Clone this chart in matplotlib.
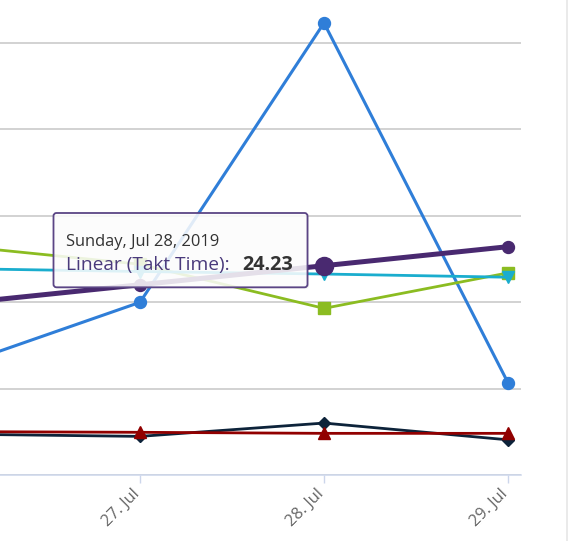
import matplotlib
matplotlib.use("Agg")
import matplotlib.pyplot as plt
from matplotlib.patches import FancyBboxPatch
from matplotlib.transforms import IdentityTransform, ScaledTranslation
from matplotlib.lines import Line2D

plt.rcParams['font.family'] = ['Open Sans', 'DejaVu Sans']

# ---- data ----
days = ['26. Jul', '27. Jul', '28. Jul', '29. Jul']
x_idx = [0, 1, 2, 3]
series_blue = [12.6, 20.0, 52.3, 10.7]
series_navy = [4.76, 4.5, 6.04, 4.1]
series_green = [26.55, 24.4, 19.3, 23.4]
series_red = [5.05, 4.97, 4.85, 4.85]
series_cyan = [23.9, 23.56, 23.27, 22.9]
linear_takt = [19.83, 22.03, 24.23, 26.43]
grid_values = [0, 10, 20, 30, 40, 50]

tooltip_date = 'Sunday, Jul 28, 2019'
tooltip_series = 'Linear (Takt Time)'
tooltip_index = 2

W, H = 568, 541
fig = plt.figure(figsize=(W / 100, H / 100), dpi=100)
fig.patch.set_facecolor('white')

y0 = 475.3  # pixel (from top) of axis line
ax = fig.add_axes([0, (H - y0) / H, 521 / W, y0 / H])
ax.set_facecolor('white')

for s in ['left', 'right', 'top']:
    ax.spines[s].set_visible(False)
ax.spines['bottom'].set_color('#ccd6eb')
ax.spines['bottom'].set_linewidth(1.1)
ax.spines['bottom'].set_zorder(1)

ax.set_yticks(grid_values)
ax.yaxis.grid(True, color='#d2d2d2', linewidth=1.4)
ax.set_axisbelow(True)
ax.tick_params(axis='y', length=0, labelleft=False)

ax.set_xticks(x_idx)
ax.set_xticklabels(days)
ax.tick_params(axis='x', length=5.5, width=1, color='#ccd6eb', colors='#666666',
               labelsize=11.8, pad=4)
shift = ScaledTranslation(-0.085, 0.03, fig.dpi_scale_trans)
for lbl in ax.get_xticklabels():
    lbl.set_rotation(45)
    lbl.set_ha('right')
    lbl.set_va('top')
    lbl.set_rotation_mode('anchor')
    lbl.set_transform(lbl.get_transform() + shift)

ax.plot(x_idx, series_blue, color='#2f7ed8', lw=2.2, marker='o', ms=8.6, zorder=3)
ax.plot(x_idx, series_navy, color='#0d233a', lw=2.0, marker='D', ms=6.5, zorder=4)
ax.plot(x_idx, series_green, color='#8bbc21', lw=2.0, marker='s', ms=8.0, zorder=5)
ax.plot(x_idx, series_red, color='#910000', lw=2.0, marker='^', ms=8.5, zorder=6)
ax.plot(x_idx, series_cyan, color='#1aadce', lw=2.0, marker='v', ms=8.5, zorder=7)
ax.plot(x_idx, linear_takt, color='#492970', lw=3.6, marker='o', ms=8.6, zorder=8)
ax.plot([x_idx[tooltip_index]], [linear_takt[tooltip_index]], color='#492970',
        marker='o', ms=13, zorder=9, linestyle='none')

# limits set after ticks (set_xticks would widen them)
ax.set_ylim(0, 54.95)
ax.set_xlim(0.239, 3.0707)
for ln in ax.get_lines():
    ln.set_clip_on(False)
    ln.set_clip_box(None)
ax.set_clip_on(False)

# right edge container line
fig.add_artist(Line2D([566.5 / W, 566.5 / W], [0, 1], transform=fig.transFigure,
                      color='#e6e6e6', lw=1.2))

# tooltip (pixel coordinates, y from bottom)
bx0, bx1, by_top, by_bot = 53.5, 307.5, 213.0, 287.3
shadow = FancyBboxPatch((bx0 + 1.5, H - by_bot - 1.5), bx1 - bx0, by_bot - by_top,
                        boxstyle='round,pad=0,rounding_size=3',
                        transform=IdentityTransform(), facecolor=(0, 0, 0, 0.06),
                        edgecolor='none', zorder=19)
fig.add_artist(shadow)
box = FancyBboxPatch((bx0, H - by_bot), bx1 - bx0, by_bot - by_top,
                     boxstyle='round,pad=0,rounding_size=3',
                     transform=IdentityTransform(), facecolor=(1, 1, 1, 0.86),
                     edgecolor='#5b4585', linewidth=1.3, zorder=20)
fig.add_artist(box)

fig.text(66 / W, (H - 245.5) / H, tooltip_date, fontsize=11.9, color='#333333',
         va='baseline', ha='left', zorder=21)
fig.text(66 / W, (H - 270) / H, tooltip_series + ':', fontsize=13.8, color='#4a3a7c',
         va='baseline', ha='left', zorder=21)
fig.text(242 / W, (H - 270) / H, f'{linear_takt[tooltip_index]:.2f}', fontsize=14.2,
         color='#333333', fontweight='bold', va='baseline', ha='left', zorder=21)

fig.savefig('out.png', dpi=100, facecolor='white')
